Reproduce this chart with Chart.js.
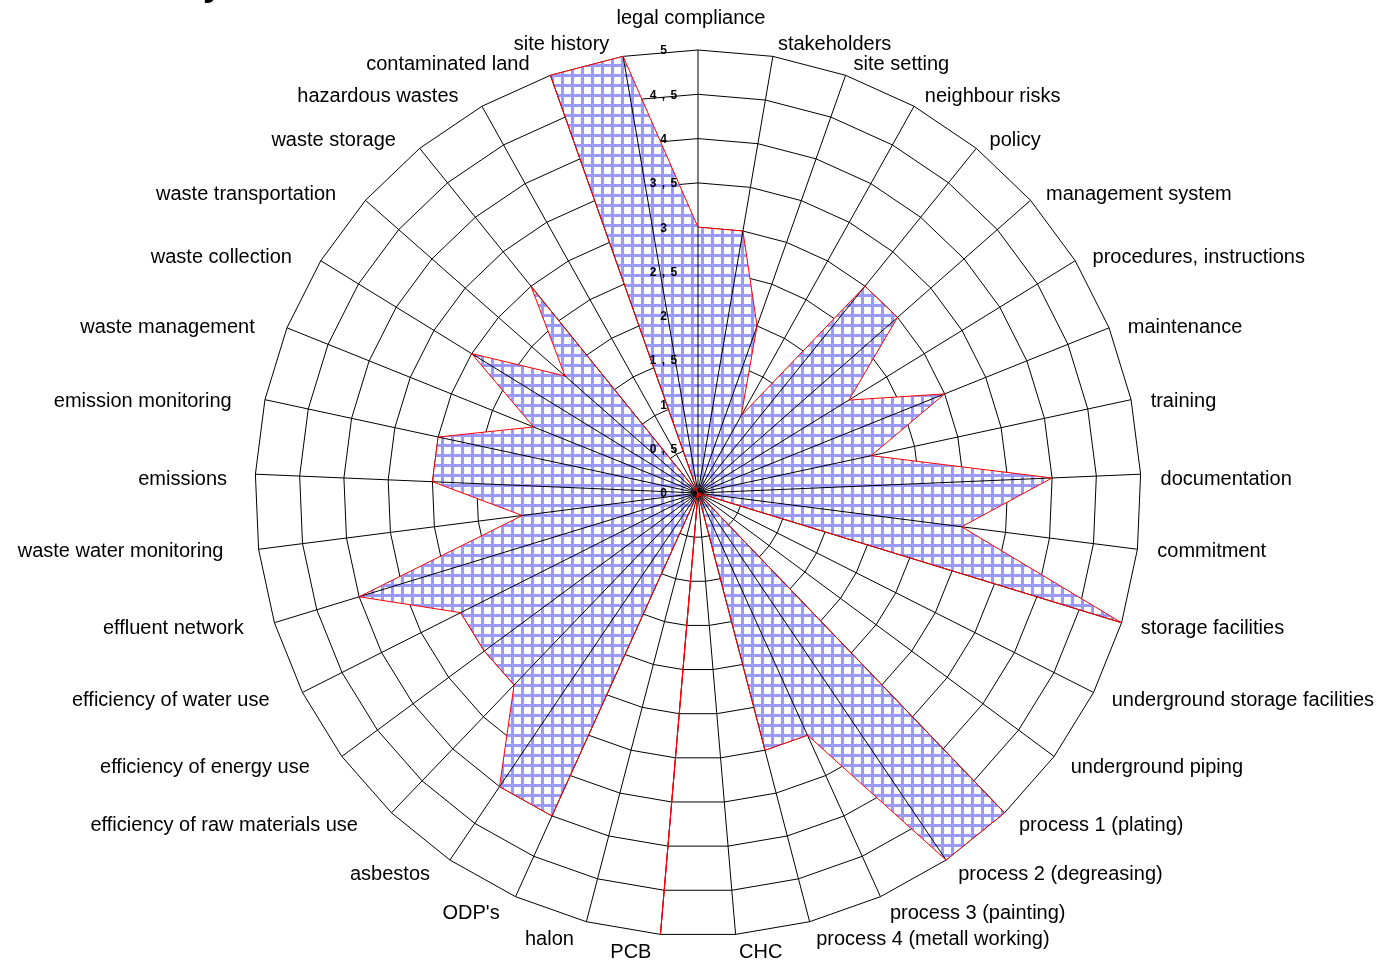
<!DOCTYPE html>
<html>
<head>
<meta charset="utf-8">
<script src="https://cdn.jsdelivr.net/npm/chart.js@4.4.1/dist/chart.umd.min.js"></script>
<style>
html,body{margin:0;padding:0;background:#fff;overflow:hidden}
#wrap{width:1387px;height:962px;position:relative}
</style>
</head>
<body>
<div id="wrap"><canvas id="c" width="1387" height="962"></canvas></div>
<script>
const categories = [
  "legal compliance","stakeholders","site setting","neighbour risks","policy",
  "management system","procedures, instructions","maintenance","training","documentation",
  "commitment","storage facilities","underground storage facilities","underground piping",
  "process 1 (plating)","process 2 (degreasing)","process 3 (painting)","process 4 (metall working)",
  "CHC","PCB","halon","ODP's","asbestos","efficiency of raw materials use",
  "efficiency of energy use","efficiency of water use","effluent network","waste water monitoring",
  "emissions","emission monitoring","waste management","waste collection","waste transportation",
  "waste storage","hazardous wastes","contaminated land","site history"
];
const scores = [
  3,3,2,1,3,
  3,2,3,2,4,
  3,5,0,0,
  5,5,3,3,
  0,5,0,4,4,3,
  3,3,4,2,
  3,3,2,3,2,
  3,0,5,5
];
const tickLabels = ["0","0 , 5","1","1 , 5","2","2 , 5","3","3 , 5","4","4 , 5","5"];
const scaleMin = 0;
const scaleMax = 5;
const scaleStep = 0.5;

const canvas = document.getElementById('c');
const ctx0 = canvas.getContext('2d');

function makePattern() {
  const p = document.createElement('canvas');
  p.width = 10; p.height = 10;
  const g = p.getContext('2d');
  g.fillStyle = '#ffffff'; g.fillRect(0, 0, 10, 10);
  g.fillStyle = '#9999ff';
  g.fillRect(1, 0, 3, 10);
  g.fillRect(0, 4, 10, 3);
  return ctx0.createPattern(p, 'repeat');
}

const overlay = {
  id: 'overlay',
  beforeDatasetsDraw(chart) {
    const s = chart.scales.r, ctx = chart.ctx;
    ctx.save();
    ctx.strokeStyle = '#000';
    ctx.lineWidth = 1;
    for (let i = 0; i < chart.data.labels.length; i++) {
      const p = s.getPointPositionForValue(i, scaleMax);
      ctx.beginPath();
      ctx.moveTo(s.xCenter, s.yCenter);
      ctx.lineTo(p.x, p.y);
      ctx.stroke();
    }
    ctx.restore();
  },
  afterDatasetsDraw(chart) {
    const s = chart.scales.r, ctx = chart.ctx;
    ctx.save();
    // value axis labels
    ctx.fillStyle = '#000';
    ctx.font = 'bold 12px "Liberation Sans", Arial, sans-serif';
    ctx.textAlign = 'center';
    ctx.textBaseline = 'middle';
    try { ctx.letterSpacing = '1px'; } catch (e) {}
    s.ticks.forEach(t => {
      const y = s.yCenter - s.getDistanceFromCenterForValue(t.value);
      ctx.fillText(t.label, s.xCenter - 34, y + 1);
    });
    try { ctx.letterSpacing = '0px'; } catch (e) {}
    // category labels
    ctx.font = '20px "Liberation Sans", Arial, sans-serif';
    ctx.textBaseline = 'middle';
    chart.data.labels.forEach((lab, i) => {
      const a = s.getPointPosition(i, s.drawingArea + 18);
      const dx = a.x - s.xCenter;
      const dy = a.y - s.yCenter;
      const yOff = dy < 0 ? 6 : 0;
      if (Math.abs(dx) < 5) {
        ctx.textAlign = 'center';
        ctx.fillText(lab, a.x - 7, a.y - 14);
      } else if (dx > 0) {
        ctx.textAlign = 'left';
        ctx.fillText(lab, a.x + 2, a.y + yOff);
      } else {
        const w = ctx.measureText(lab).width;
        ctx.textAlign = 'right';
        ctx.fillText(lab, a.x - 5 - 0.06 * w, a.y + yOff);
      }
    });
    // clipped title fragment at the very top
    ctx.font = 'bold 36px "Liberation Sans", Arial, sans-serif';
    ctx.textAlign = 'left';
    ctx.textBaseline = 'alphabetic';
    ctx.fillText('y', 203, -5);
    ctx.restore();
  }
};

new Chart(ctx0, {
  type: 'radar',
  data: {
    labels: categories,
    datasets: [{
      data: scores,
      backgroundColor: makePattern(),
      borderColor: '#ff0000',
      borderWidth: 1,
      pointRadius: 0,
      pointHoverRadius: 0,
      fill: 'origin',
      tension: 0
    }]
  },
  options: {
    responsive: false,
    animation: false,
    events: [],
    layout: { padding: { left: 255, right: 246, top: 50, bottom: 26 } },
    plugins: {
      legend: { display: false },
      title: { display: false },
      tooltip: { enabled: false },
      filler: { drawTime: 'beforeDatasetsDraw' }
    },
    scales: {
      r: {
        min: scaleMin,
        max: scaleMax,
        ticks: { stepSize: scaleStep, display: false, callback: (v, i) => tickLabels[i] },
        grid: { color: '#000', lineWidth: 1, circular: false },
        angleLines: { display: false },
        pointLabels: { display: false }
      }
    }
  },
  plugins: [overlay]
});
</script>
</body>
</html>
